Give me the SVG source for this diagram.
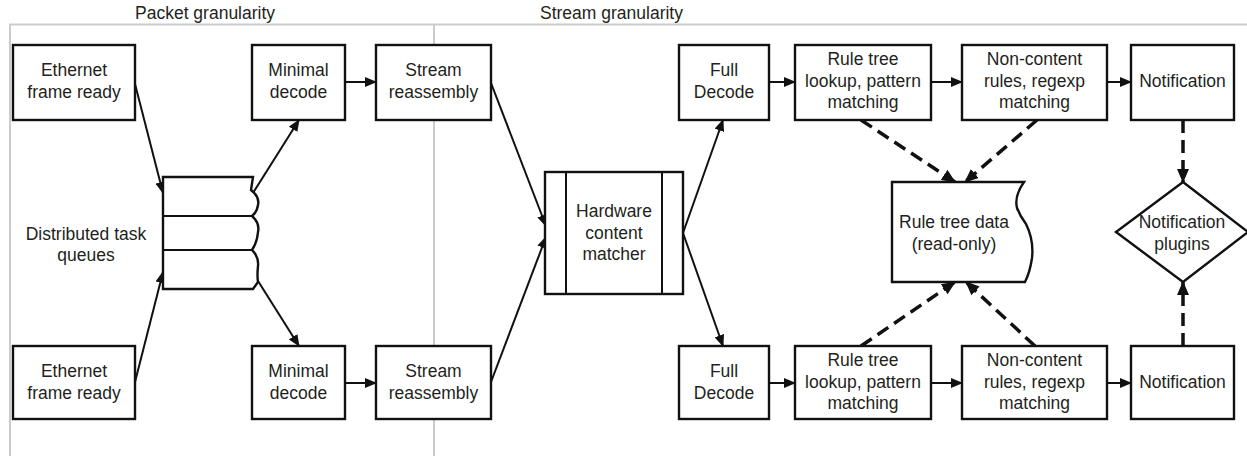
<svg xmlns="http://www.w3.org/2000/svg" width="1247" height="456" viewBox="0 0 1247 456">
<style>
.box{fill:#fff;stroke:#111;stroke-width:2.4}
.pl{fill:none;stroke:#ccc;stroke-width:2}
.t{font-family:"Liberation Sans",Arial,sans-serif;font-size:17.5px;fill:#231f20;text-anchor:middle}
.h{font-family:"Liberation Sans",Arial,sans-serif;font-size:17.5px;fill:#231f20}
.c{fill:none;stroke:#111;stroke-width:2}
.d{fill:none;stroke:#111;stroke-width:3.5;stroke-dasharray:13 7}
</style>
<defs>
<marker id="a" markerUnits="userSpaceOnUse" markerWidth="12" markerHeight="10" refX="11" refY="5" orient="auto"><path d="M0,0 L12,5 L0,10 z" fill="#111"/></marker>
<marker id="ad" markerUnits="userSpaceOnUse" markerWidth="14" markerHeight="12" refX="13" refY="6" orient="auto"><path d="M0,0 L14,6 L0,12 z" fill="#111"/></marker>
</defs>
<g id="panels">
<path class="pl" d="M10,456 V24.5 H1247 M434,24.5 V456"/>
<text class="h" x="135" y="19">Packet granularity</text>
<text class="h" x="540" y="19">Stream granularity</text>
</g>
<g id="connectors">
<path class="c" marker-end="url(#a)" d="M135,84 L163,193"/>
<path class="c" marker-end="url(#a)" d="M135,382 L163,272"/>
<path class="c" marker-end="url(#a)" d="M253,193 L299,120"/>
<path class="c" marker-end="url(#a)" d="M253,273 L299,346"/>
<path class="c" marker-end="url(#a)" d="M345,82 L376,82"/>
<path class="c" marker-end="url(#a)" d="M345,383 L376,383"/>
<path class="c" marker-end="url(#a)" d="M491,83 L546,226"/>
<path class="c" marker-end="url(#a)" d="M491,382 L546,237"/>
<path class="c" marker-end="url(#a)" d="M683,233 L723,120"/>
<path class="c" marker-end="url(#a)" d="M683,233 L723,346"/>
<path class="c" marker-end="url(#a)" d="M769,82 L795,82"/>
<path class="c" marker-end="url(#a)" d="M931,82 L962,82"/>
<path class="c" marker-end="url(#a)" d="M1107,82 L1131,82"/>
<path class="c" marker-end="url(#a)" d="M769,383 L795,383"/>
<path class="c" marker-end="url(#a)" d="M931,383 L962,383"/>
<path class="c" marker-end="url(#a)" d="M1107,383 L1131,383"/>
<path class="d" marker-end="url(#ad)" d="M861,120 L955,182"/>
<path class="d" marker-end="url(#ad)" d="M1037,120 L965,182"/>
<path class="d" marker-end="url(#ad)" d="M861,346 L955,282"/>
<path class="d" marker-end="url(#ad)" d="M1035,346 L966,282"/>
<path class="d" marker-end="url(#ad)" d="M1183,120 L1183,182"/>
<path class="d" marker-end="url(#ad)" d="M1183,346 L1183,282"/>
</g>
<g id="eth1"><rect class="box" x="13" y="45" width="122" height="75"/><text class="t" x="74" y="76">Ethernet</text><text class="t" x="74" y="98">frame ready</text></g>
<g id="eth2"><rect class="box" x="13" y="346" width="122" height="73"/><text class="t" x="74" y="377">Ethernet</text><text class="t" x="74" y="398.5">frame ready</text></g>
<g id="queues">
<path class="box" d="M163,177 H253 L251,190 Q260,197 258,205 Q257,212 252,216 Q260,223 258,232 Q257,243 252,250 Q259,257 258,266 Q257,276 258,282 L253,289 H163 Z"/>
<path class="c" stroke-width="2.4" d="M163,216 H252 M163,250 H252"/>
<text class="t" x="86" y="240">Distributed task</text><text class="t" x="86" y="261">queues</text>
</g>
<g id="min1"><rect class="box" x="252" y="45" width="93" height="75"/><text class="t" x="298.5" y="76">Minimal</text><text class="t" x="298.5" y="98">decode</text></g>
<g id="min2"><rect class="box" x="252" y="346" width="93" height="73"/><text class="t" x="298.5" y="377">Minimal</text><text class="t" x="298.5" y="398.5">decode</text></g>
<g id="sr1"><rect class="box" x="376" y="45" width="115" height="75"/><text class="t" x="433.5" y="76">Stream</text><text class="t" x="433.5" y="98">reassembly</text></g>
<g id="sr2"><rect class="box" x="376" y="346" width="115" height="73"/><text class="t" x="433.5" y="377">Stream</text><text class="t" x="433.5" y="398.5">reassembly</text></g>
<g id="hcm"><rect class="box" x="545" y="172" width="138" height="122"/><path class="c" stroke-width="2.4" d="M566,172 V294 M662,172 V294"/><text class="t" x="614" y="217">Hardware</text><text class="t" x="614" y="238.5">content</text><text class="t" x="614" y="260">matcher</text></g>
<g id="fd1"><rect class="box" x="679" y="45" width="90" height="75"/><text class="t" x="724" y="76">Full</text><text class="t" x="724" y="98">Decode</text></g>
<g id="fd2"><rect class="box" x="679" y="346" width="90" height="73"/><text class="t" x="724" y="377">Full</text><text class="t" x="724" y="398.5">Decode</text></g>
<g id="rt1"><rect class="box" x="795" y="45" width="136" height="75"/><text class="t" x="863" y="65">Rule tree</text><text class="t" x="863" y="86.5">lookup, pattern</text><text class="t" x="863" y="108">matching</text></g>
<g id="rt2"><rect class="box" x="795" y="346" width="136" height="73"/><text class="t" x="863" y="366">Rule tree</text><text class="t" x="863" y="387.5">lookup, pattern</text><text class="t" x="863" y="409">matching</text></g>
<g id="nc1"><rect class="box" x="962" y="45" width="145" height="75"/><text class="t" x="1034.5" y="65">Non-content</text><text class="t" x="1034.5" y="86.5">rules, regexp</text><text class="t" x="1034.5" y="108">matching</text></g>
<g id="nc2"><rect class="box" x="962" y="346" width="145" height="73"/><text class="t" x="1034.5" y="366">Non-content</text><text class="t" x="1034.5" y="387.5">rules, regexp</text><text class="t" x="1034.5" y="409">matching</text></g>
<g id="nt1"><rect class="box" x="1131" y="45" width="103" height="75"/><text class="t" x="1182.5" y="87">Notification</text></g>
<g id="nt2"><rect class="box" x="1131" y="346" width="103" height="73"/><text class="t" x="1182.5" y="388">Notification</text></g>
<g id="rtd"><path class="box" d="M892,182 H1024 Q1014,196 1017,208 Q1020,216 1026,224 Q1034,240 1032,258 Q1030,272 1025,282 H892 Z"/><text class="t" x="954" y="228">Rule tree data</text><text class="t" x="954" y="250">(read-only)</text></g>
<g id="plugins"><path class="box" d="M1183,182 L1248,232 L1183,282 L1116,232 Z"/><text class="t" x="1182" y="228">Notification</text><text class="t" x="1182" y="250">plugins</text></g>
</svg>
